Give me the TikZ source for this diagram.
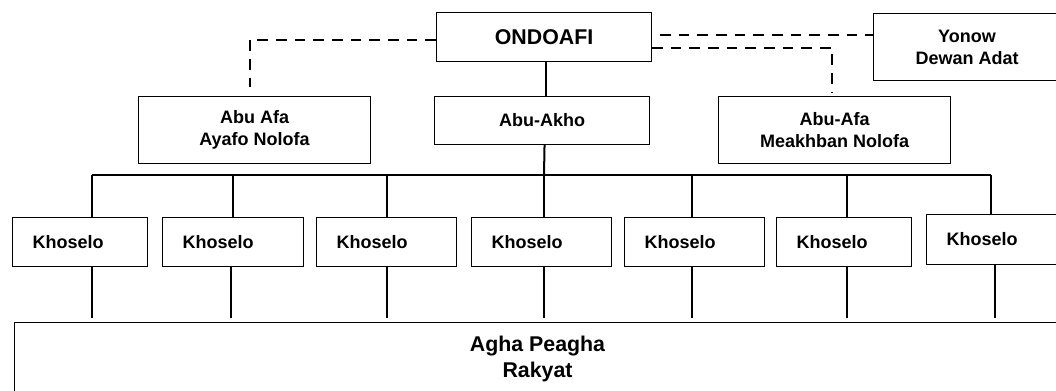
\documentclass[tikz,border=0pt]{standalone}
\usepackage{fontspec}
\setmainfont{Liberation Sans}
\usetikzlibrary{calc}
\tikzset{
  x=0.75pt, y=-0.75pt,
  box/.style={draw, line width=0.8pt, anchor=north west, inner sep=0pt, align=center, font=\bfseries\fontsize{13.5}{16.5}\selectfont},
  kbox/.style={draw, line width=0.8pt, anchor=north west, inner xsep=15pt, inner ysep=0pt, align=left, font=\bfseries\fontsize{13.5}{16.5}\selectfont},
  conn/.style={line width=1.5pt},
  dashline/.style={line width=1.5pt, dash pattern=on 8pt off 6pt}
}
\begin{document}
\begin{tikzpicture}
\useasboundingbox (0,0) rectangle (1056,391);
\clip (0,0) rectangle (1056,391);
\fill[white] (0,0) rectangle (1056,391);
% top level
\node[box, minimum width=161.25pt, minimum height=36.75pt, font=\bfseries\fontsize{16}{19}\selectfont] (ond) at (436,12) {ONDOAFI};
\node[box, minimum width=140.25pt, minimum height=50.25pt] (yon) at (873,13) {Yonow\\Dewan Adat};
% second level
\node[box, minimum width=174pt, minimum height=50.25pt] (afa) at (138,96) {Abu Afa\\Ayafo Nolofa};
\node[box, minimum width=161.25pt, minimum height=36pt] (akho) at (434,96) {Abu-Akho};
\node[box, minimum width=174pt, minimum height=50.25pt] (mea) at (718,96) {Abu-Afa\\Meakhban Nolofa};
% khoselo
\node[kbox, text width=71.25pt, minimum height=36.75pt] (k1) at (12,217) {Khoselo};
\node[kbox, text width=75.75pt, minimum height=36.75pt] (k2) at (162,217) {Khoselo};
\node[kbox, text width=75pt, minimum height=36.75pt] (k3) at (316,217) {Khoselo};
\node[kbox, text width=75pt, minimum height=36.75pt] (k4) at (471,217) {Khoselo};
\node[kbox, text width=75pt, minimum height=36.75pt] (k5) at (624,217) {Khoselo};
\node[kbox, text width=71.25pt, minimum height=36.75pt] (k6) at (776,217) {Khoselo};
\node[kbox, text width=70.5pt, minimum height=37.5pt] (k7) at (926,214) {Khoselo};
% bottom
\node[box, minimum width=784.5pt, minimum height=54pt, font=\bfseries\fontsize{16}{19.5}\selectfont] (rak) at (14,322) {Agha Peagha\\Rakyat};
% coordinates
\coordinate (d1) at (92,175);
\coordinate (d2) at (233,175);
\coordinate (d3) at (387,175);
\coordinate (d4) at (544,175);
\coordinate (d5) at (692,175);
\coordinate (d6) at (847,175);
\coordinate (d7) at (991,175);
\coordinate (u1) at (92,318);
\coordinate (u2) at (231,318);
\coordinate (u3) at (387,318);
\coordinate (u4) at (544,318);
\coordinate (u5) at (692,318);
\coordinate (u6) at (847,318);
\coordinate (u7) at (995,318);
\coordinate (yA) at (660,35);
\coordinate (lE) at (250,87);
\coordinate (mE) at (832,93);
% solid connectors
\draw[conn] ($(ond.south)+(2,0)$) -- ($(akho.north)+(4,0)$);
\draw[conn] ($(akho.south)+(2.5,0)$) -- (d4);
\draw[conn] (d1) -- (d7);
\foreach \i in {1,...,7} {
  \draw[conn] (d\i) -- (d\i |- k\i.north);
  \draw[conn] (u\i |- k\i.south) -- (u\i);
}
% dashed connectors
\draw[dashline] ($(ond.west)+(0,2.5)$) -| (lE);
\draw[dashline] (yA) -- (yA -| yon.west);
\draw[dashline] ($(ond.east)+(0,10.5)$) -| (mE);
\end{tikzpicture}
\end{document}
